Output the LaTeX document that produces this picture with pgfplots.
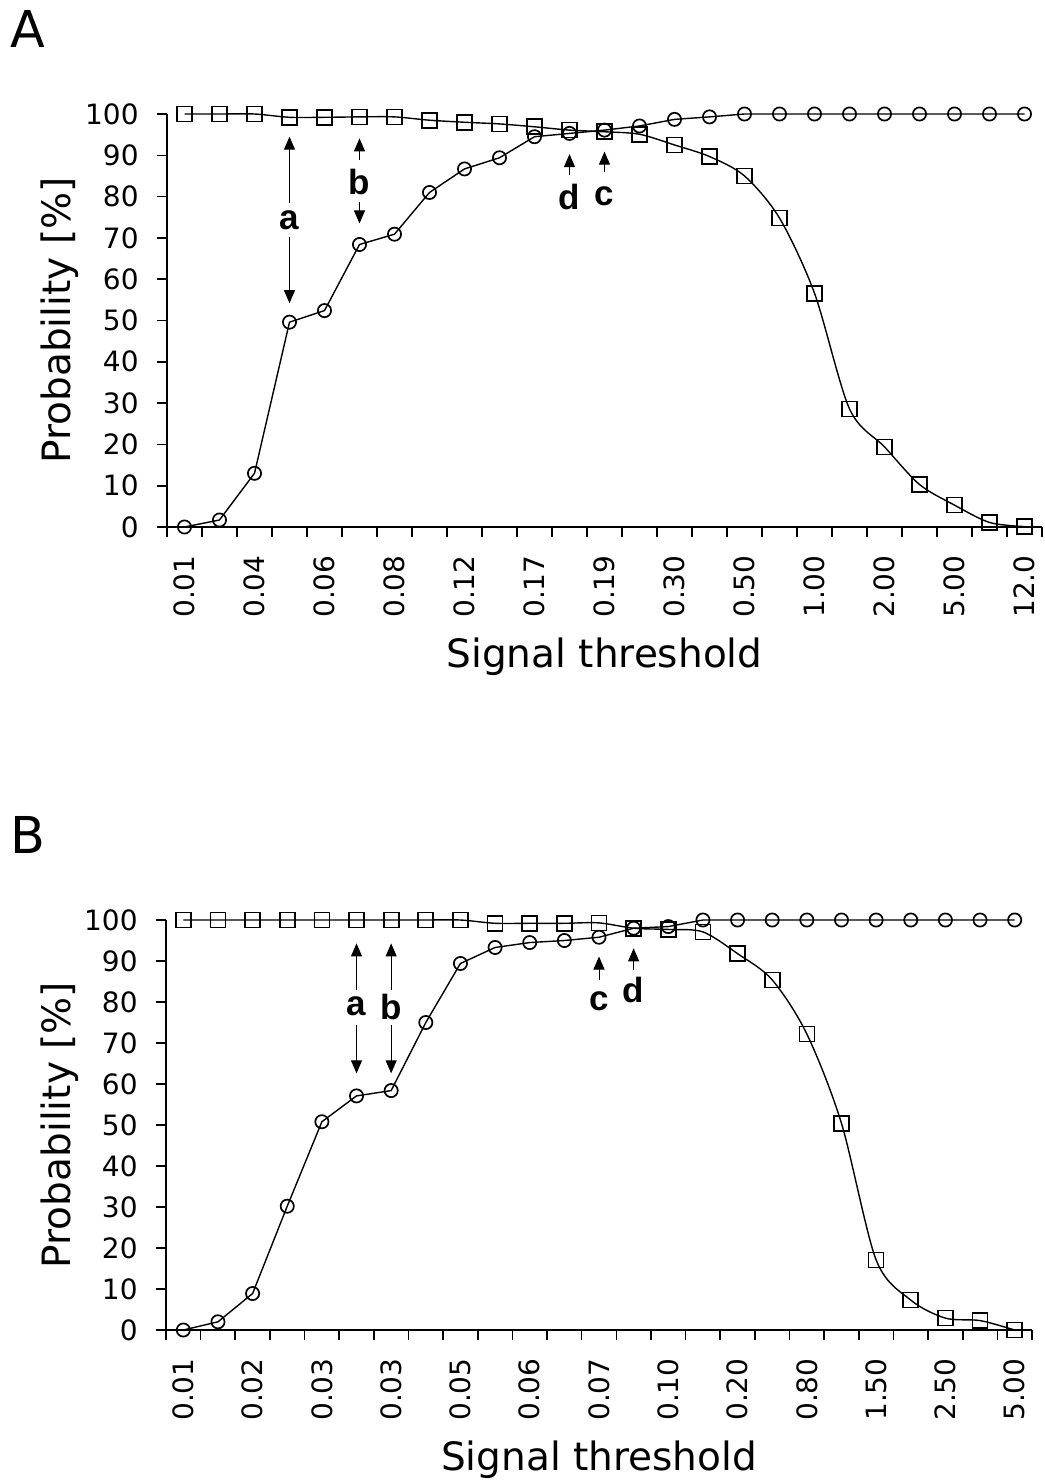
\documentclass[border=0pt]{standalone}
\usepackage{pgfplots}
\usepackage{pgfplotstable}
\pgfplotsset{compat=1.18}
\usepackage{fontspec}
\setmainfont{DejaVu Sans}
\newfontfamily\lblfont{Liberation Sans}
\usetikzlibrary{arrows.meta}

\newcommand\ticksize{\fontsize{14}{16}\selectfont}
\newcommand\labsize{\fontsize{19.5}{22}\selectfont}

% x = category index, circ = circle series, sq = square series
\pgfplotstableread{
x circ sq
0  0    100
1  1.7  100
2  13.0 100
3  49.6 99.2
4  52.4 99.2
5  68.4 99.3
6  70.9 99.3
7  81.0 98.5
8  86.7 98.0
9  89.4 97.6
10 94.5 96.9
11 95.3 96.1
12 96.1 95.7
13 97.1 95.1
14 98.7 92.5
15 99.3 89.7
16 100  85.0
17 100  74.8
18 100  56.6
19 100  28.6
20 100  19.4
21 100  10.3
22 100  5.3
23 100  1.1
24 100  0.1
}\dataA

\pgfplotstableread{
x circ sq
0  0    100
1  2.0  100
2  8.9  100
3  30.2 100
4  50.8 100
5  57.1 100
6  58.4 100
7  75.0 100
8  89.4 100
9  93.3 99.2
10 94.5 99.2
11 95.0 99.2
12 95.8 99.3
13 98.0 98.0
14 98.4 97.7
15 100  97.1
16 100  91.8
17 100  85.4
18 100  72.2
19 100  50.4
20 100  17.1
21 100  7.3
22 100  2.9
23 100  2.3
24 100  0
}\dataB

\pgfplotsset{
  probaxis/.style={
    scale only axis,
    anchor=south west,
    axis lines=left,
    axis line style={-, line width=0.8pt},
    clip=false,
    xmin=-0.5, xmax=24.5, ymin=0, ymax=100,
    ytick={0,10,...,100},
    xtick={0,2,...,24},
    minor xtick={-0.5,0.5,...,24.5},
    major x tick style={draw=none},
    tick align=outside,
    tick style={black, line width=0.8pt},
    major tick length=5pt, minor tick length=5pt,
    /pgf/number format/assume math mode=true,
    xticklabel style={rotate=90, anchor=east, inner sep=0pt, font=\ticksize},
    yticklabel style={anchor=east, inner sep=0pt, font=\ticksize},
    xticklabel shift=9pt,
    yticklabel shift=9pt,
    xlabel={Signal threshold},
    ylabel={Probability [\%]},
    xlabel style={at={(axis description cs:0.5,0)}, anchor=north, inner sep=0pt, yshift=-55pt, font=\labsize},
    ylabel style={at={(axis description cs:-0.145,0.5)}, anchor=north, inner sep=0pt, font=\labsize},
  },
  circ/.style={black, line width=0.7pt, mark=o, mark size=3.3pt, mark options={line width=0.85pt}},
  sq/.style={black, line width=0.7pt, smooth, mark=square, mark size=3.75pt, mark options={line width=0.85pt}},
}
\tikzset{
  annot/.style={black, line width=0.5pt, -{Triangle[length=6.5pt,width=5.5pt]}},
  lbl/.style={font=\lblfont\bfseries\fontsize{17.5}{20}\selectfont, inner sep=0pt},
}

\begin{document}
\begin{tikzpicture}
\path[use as bounding box] (0,0) rectangle (522pt,-740.5pt);

\node[anchor=base west, inner sep=0pt, font=\fontsize{25.4}{28}\selectfont] at (5pt,-24pt) {A};
\node[anchor=base west, inner sep=0pt, font=\fontsize{25.4}{28}\selectfont] at (5pt,-426.5pt) {B};

\begin{axis}[probaxis, at={(83.5pt,-263.5pt)}, width=437.5pt, height=206.5pt,
  xticklabels={0.01,0.04,0.06,0.08,0.12,0.17,0.19,0.30,0.50,1.00,2.00,5.00,12.0}]
  \addplot[circ] table[x=x, y=circ] {\dataA};
  \addplot[sq] table[x=x, y=sq] {\dataA};
  % arrows and letters
  \draw[annot] (3,78.5) -- (3,94.5);
  \draw[annot] (3,70.3) -- (3,54.2);
  \node[lbl] at (3,74.3) {a};
  \draw[annot] (5,88.9) -- (5,94.1);
  \draw[annot] (5,78.8) -- (5,73.5);
  \node[lbl] at (5,83.6) {b};
  \draw[annot] (11,85.2) -- (11,90.3);
  \node[lbl] at (11,80.0) {d};
  \draw[annot] (12,86.0) -- (12,90.9);
  \node[lbl] at (12,80.0) {c};
\end{axis}

\begin{axis}[probaxis, at={(83pt,-665pt)}, width=433pt, height=205pt,
  xticklabels={0.01,0.02,0.03,0.03,0.05,0.06,0.07,0.10,0.20,0.80,1.50,2.50,5.00}]
  \addplot[circ] table[x=x, y=circ] {\dataB};
  \addplot[sq] table[x=x, y=sq] {\dataB};
  \draw[annot] (5,82.9) -- (5,94.3);
  \draw[annot] (5,74.4) -- (5,62.6);
  \node[lbl] at (5,78.9) {a};
  \draw[annot] (6,82.9) -- (6,94.3);
  \draw[annot] (6,74.4) -- (6,62.6);
  \node[lbl] at (6,78.9) {b};
  \draw[annot] (12,85.4) -- (12,91.1);
  \node[lbl] at (12,80.1) {c};
  \draw[annot] (13,87.8) -- (13,93.1);
  \node[lbl] at (13,82.9) {d};
\end{axis}
\end{tikzpicture}
\end{document}
